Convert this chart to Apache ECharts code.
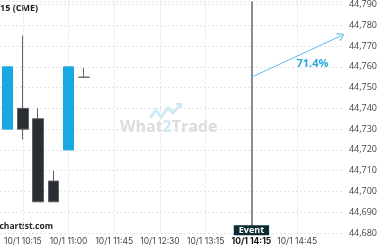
<!DOCTYPE html>
<html><head><meta charset="utf-8">
<script src="https://cdn.jsdelivr.net/npm/echarts@6/dist/echarts.min.js"></script>
<style>html,body{margin:0;padding:0;background:#fff}#c{width:380px;height:250px}</style>
</head><body><div id="c"></div>
<script>
// slot index = 15-minute candle position on the x axis
const candleSlots = [0, 1, 2, 3, 4, 5];
const opens  = [44730, 44740, 44735, 44705, 44720, 44755];
const closes = [44760, 44730, 44695, 44695, 44760, 44755];
const lows   = [44730, 44725, 44695, 44695, 44720, 44755];
const highs  = [44760, 44775, 44740, 44710, 44760, 44759.5];
const tickSlots  = [1, 4, 7, 10, 13, 16, 19];
const tickLabels = ['10/1 10:15', '10/1 11:00', '10/1 11:45', '10/1 12:30', '10/1 13:15', '10/1 14:15', '10/1 14:45'];
const eventSlot = 16;
const eventLabel = 'Event';
const arrowStart = 44755;
const arrowEndSlot = 21.9;
const arrowEnd = 44775;
const probability = '71.4%';
const yMin = 44680, yMax = 44791.4, yStep = 10;

const chart = echarts.init(document.getElementById('c'), null, {renderer: 'canvas'});
const BLUE = '#1aa7e2', DARK = '#2b2d34';
const candleData = candleSlots.map((s, i) => {
  const d = {value: [s, opens[i], closes[i], lows[i], highs[i]]};
  if (opens[i] === closes[i]) d.itemStyle = {color: '#666', borderColor: '#666', color0: '#666', borderColor0: '#666'};
  return d;
});
const XFONT = 'Inter, "Open Sans", sans-serif';
const FONT = '"Open Sans", "Noto Sans", sans-serif';
chart.setOption({
  animation: false,
  grid: {left: 0, right: 25, top: 0, bottom: 17, containLabel: false},
  xAxis: {
    type: 'value', min: -0.5, max: 22.07,
    axisLine: {show: false},
    axisTick: {show: false, customValues: tickSlots},
    axisLabel: {
      customValues: tickSlots, fontSize: 8.5, color: '#444', fontFamily: XFONT, margin: 4, hideOverlap: false,
      formatter: v => { const i = tickSlots.indexOf(Math.round(v)); const t = i >= 0 ? tickLabels[i] : '';
        return Math.round(v) === eventSlot ? '{b|' + t + '}' : t; },
      rich: {b: {fontWeight: 'bold', color: '#111', fontSize: 8.5, fontFamily: XFONT}}
    },
    splitLine: {show: true, lineStyle: {color: '#e4e4e4', type: [2, 2]}}
  },
  yAxis: {
    type: 'value', position: 'right', min: yMin, max: yMax, interval: yStep, scale: true,
    axisLine: {show: false}, axisTick: {show: false},
    axisLabel: {fontSize: 9, color: '#444', fontFamily: FONT, margin: 5, showMaxLabel: false},
    splitLine: {show: true, lineStyle: {color: '#e4e4e4', type: [2, 2]}}
  },
  graphic: [
    {type: 'text', left: 0, top: 4, style: {text: '15 (CME)', font: 'bold 9px ' + FONT, fill: '#222'}},
    {type: 'text', right: 327, top: 222, style: {text: 'autochartist.com', font: 'bold 8.5px ' + FONT, fill: '#222', align: 'right'}},
    {type: 'polyline', shape: {points: [[150,118],[156,110],[161,117],[168,108],[173,113],[181,104]]},
     style: {stroke: '#cfe9f7', lineWidth: 3, fill: null}, z: 0},
    {type: 'polyline', shape: {points: [[176,104],[181,104],[181,109]]}, style: {stroke: '#cfe9f7', lineWidth: 2, fill: null}, z: 0},
    {type: 'text', left: 120, top: 119, z: 0, style: {
      text: '{a|What}{b|2}{a|Trade}',
      rich: {a: {fontSize: 16, fontWeight: 'bold', fill: '#dcdcdc', fontFamily: FONT},
             b: {fontSize: 16, fontWeight: 'bold', fill: '#cfe9f7', fontFamily: FONT}}}}
  ],
  series: [{
    type: 'candlestick', barWidth: 11, z: 3,
    itemStyle: {color: BLUE, borderColor: BLUE, color0: DARK, borderColor0: '#5e616a', borderWidth: 1},
    data: candleData,
    markLine: {
      silent: true, symbol: 'none', animation: false,
      data: [
        [{coord: [eventSlot, yMin + 3.3], lineStyle: {color: '#5f6a70', width: 1.5, type: 'solid'},
          label: {show: true, position: 'start', formatter: eventLabel, distance: -1,
            backgroundColor: '#0e2b35', color: '#fff', fontWeight: 'bold', fontSize: 9, fontFamily: FONT,
            padding: [1, 5, 0, 5]}},
         {coord: [eventSlot, yMax]}],
        [{coord: [eventSlot, arrowStart], symbol: 'none', lineStyle: {color: '#5bbfea', width: 1, type: 'solid'}, label: {show: false}},
         {coord: [arrowEndSlot, arrowEnd], symbol: 'path://M0,10 L5,0 L10,10 L8.6,10 L5,2.6 L1.4,10 Z', symbolSize: [9, 7]}]
      ]
    },
    markPoint: {
      silent: true, symbol: 'circle', symbolSize: 0, animation: false,
      data: [{coord: [(eventSlot + arrowEndSlot) / 2, (arrowStart + arrowEnd) / 2],
        label: {show: true, formatter: probability, offset: [16, 7], color: '#2aa8e0', fontWeight: 'bold', fontSize: 11, fontFamily: FONT}}]
    }
  }]
});
</script></body></html>
